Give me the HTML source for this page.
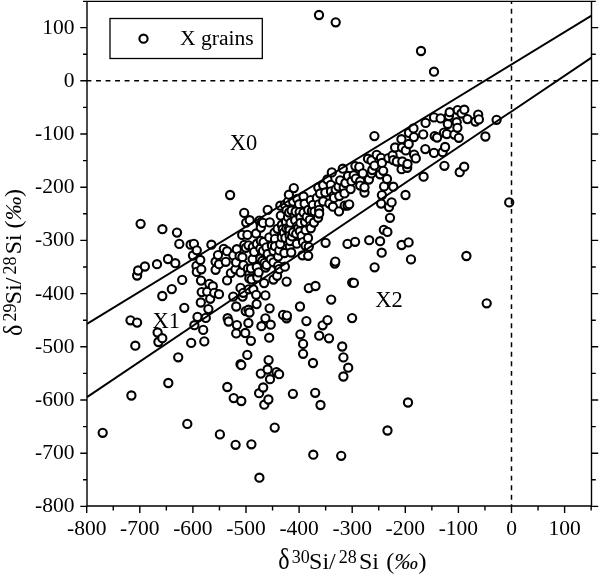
<!DOCTYPE html><html><head><meta charset="utf-8"><style>html,body{margin:0;padding:0;background:#fff;}svg{display:block;will-change:transform;}text{font-family:"Liberation Serif",serif;fill:#000;}</style></head><body>
<svg width="600" height="576" viewBox="0 0 600 576">
<g fill="#fff" stroke="#000" stroke-width="2.1"><circle cx="102.7" cy="432.8" r="4.1"/><circle cx="130.5" cy="320.3" r="4.1"/><circle cx="131.4" cy="395.5" r="4.1"/><circle cx="135.3" cy="345.7" r="4.1"/><circle cx="137.1" cy="275.5" r="4.1"/><circle cx="137.1" cy="322.6" r="4.1"/><circle cx="138.1" cy="270.5" r="4.1"/><circle cx="140.6" cy="223.8" r="4.1"/><circle cx="144.9" cy="266.5" r="4.1"/><circle cx="157.0" cy="264.2" r="4.1"/><circle cx="157.6" cy="332.5" r="4.1"/><circle cx="158.4" cy="342.0" r="4.1"/><circle cx="162.3" cy="296.0" r="4.1"/><circle cx="162.3" cy="338.2" r="4.1"/><circle cx="162.4" cy="229.2" r="4.1"/><circle cx="168.0" cy="259.0" r="4.1"/><circle cx="168.3" cy="383.0" r="4.1"/><circle cx="171.8" cy="289.1" r="4.1"/><circle cx="175.3" cy="263.2" r="4.1"/><circle cx="177.0" cy="232.6" r="4.1"/><circle cx="178.2" cy="357.3" r="4.1"/><circle cx="179.3" cy="243.9" r="4.1"/><circle cx="182.2" cy="279.9" r="4.1"/><circle cx="184.3" cy="307.8" r="4.1"/><circle cx="187.3" cy="423.9" r="4.1"/><circle cx="190.6" cy="244.7" r="4.1"/><circle cx="191.2" cy="342.9" r="4.1"/><circle cx="193.0" cy="255.5" r="4.1"/><circle cx="193.9" cy="243.9" r="4.1"/><circle cx="194.4" cy="325.2" r="4.1"/><circle cx="196.5" cy="265.9" r="4.1"/><circle cx="196.8" cy="250.3" r="4.1"/><circle cx="196.8" cy="271.9" r="4.1"/><circle cx="197.5" cy="316.9" r="4.1"/><circle cx="200.3" cy="260.0" r="4.1"/><circle cx="200.8" cy="302.5" r="4.1"/><circle cx="201.0" cy="280.6" r="4.1"/><circle cx="201.3" cy="269.3" r="4.1"/><circle cx="201.7" cy="292.1" r="4.1"/><circle cx="203.2" cy="329.9" r="4.1"/><circle cx="204.3" cy="341.4" r="4.1"/><circle cx="205.8" cy="317.9" r="4.1"/><circle cx="207.2" cy="291.7" r="4.1"/><circle cx="208.4" cy="309.1" r="4.1"/><circle cx="209.3" cy="283.8" r="4.1"/><circle cx="210.2" cy="298.8" r="4.1"/><circle cx="211.4" cy="244.7" r="4.1"/><circle cx="212.8" cy="286.2" r="4.1"/><circle cx="214.2" cy="292.8" r="4.1"/><circle cx="215.6" cy="261.7" r="4.1"/><circle cx="215.6" cy="269.8" r="4.1"/><circle cx="218.0" cy="255.1" r="4.1"/><circle cx="219.0" cy="264.2" r="4.1"/><circle cx="219.0" cy="294.2" r="4.1"/><circle cx="219.9" cy="434.4" r="4.1"/><circle cx="223.8" cy="248.8" r="4.1"/><circle cx="225.8" cy="261.8" r="4.1"/><circle cx="227.1" cy="251.2" r="4.1"/><circle cx="227.1" cy="280.4" r="4.1"/><circle cx="227.3" cy="387.0" r="4.1"/><circle cx="227.6" cy="318.2" r="4.1"/><circle cx="228.6" cy="321.5" r="4.1"/><circle cx="230.1" cy="195.0" r="4.1"/><circle cx="230.9" cy="273.1" r="4.1"/><circle cx="233.2" cy="296.6" r="4.1"/><circle cx="233.3" cy="255.4" r="4.1"/><circle cx="233.7" cy="398.1" r="4.1"/><circle cx="235.4" cy="269.3" r="4.1"/><circle cx="235.6" cy="444.8" r="4.1"/><circle cx="236.1" cy="262.4" r="4.1"/><circle cx="236.2" cy="306.5" r="4.1"/><circle cx="236.2" cy="333.4" r="4.1"/><circle cx="236.8" cy="249.2" r="4.1"/><circle cx="236.9" cy="325.1" r="4.1"/><circle cx="239.6" cy="256.1" r="4.1"/><circle cx="240.5" cy="287.9" r="4.1"/><circle cx="240.5" cy="364.2" r="4.1"/><circle cx="240.6" cy="272.4" r="4.1"/><circle cx="241.3" cy="401.0" r="4.1"/><circle cx="241.3" cy="365.1" r="4.1"/><circle cx="242.2" cy="234.9" r="4.1"/><circle cx="242.4" cy="257.2" r="4.1"/><circle cx="242.6" cy="296.6" r="4.1"/><circle cx="243.3" cy="292.8" r="4.1"/><circle cx="243.4" cy="265.1" r="4.1"/><circle cx="244.2" cy="212.9" r="4.1"/><circle cx="244.3" cy="244.9" r="4.1"/><circle cx="245.3" cy="333.0" r="4.1"/><circle cx="245.7" cy="311.1" r="4.1"/><circle cx="245.8" cy="247.8" r="4.1"/><circle cx="246.2" cy="222.6" r="4.1"/><circle cx="247.3" cy="354.9" r="4.1"/><circle cx="247.4" cy="234.9" r="4.1"/><circle cx="247.9" cy="268.6" r="4.1"/><circle cx="248.4" cy="323.0" r="4.1"/><circle cx="248.5" cy="245.3" r="4.1"/><circle cx="248.5" cy="309.7" r="4.1"/><circle cx="248.8" cy="289.3" r="4.1"/><circle cx="249.3" cy="274.2" r="4.1"/><circle cx="249.3" cy="278.3" r="4.1"/><circle cx="249.5" cy="312.5" r="4.1"/><circle cx="249.7" cy="220.2" r="4.1"/><circle cx="250.9" cy="340.8" r="4.1"/><circle cx="251.0" cy="268.5" r="4.1"/><circle cx="251.4" cy="444.3" r="4.1"/><circle cx="251.6" cy="279.5" r="4.1"/><circle cx="252.6" cy="259.2" r="4.1"/><circle cx="252.8" cy="247.1" r="4.1"/><circle cx="253.3" cy="289.3" r="4.1"/><circle cx="254.2" cy="251.9" r="4.1"/><circle cx="256.1" cy="233.5" r="4.1"/><circle cx="256.2" cy="294.8" r="4.1"/><circle cx="256.6" cy="304.1" r="4.1"/><circle cx="256.8" cy="267.0" r="4.1"/><circle cx="256.8" cy="243.9" r="4.1"/><circle cx="257.3" cy="277.4" r="4.1"/><circle cx="258.6" cy="272.4" r="4.1"/><circle cx="259.1" cy="393.2" r="4.1"/><circle cx="259.4" cy="477.7" r="4.1"/><circle cx="259.4" cy="220.6" r="4.1"/><circle cx="260.4" cy="248.5" r="4.1"/><circle cx="260.4" cy="258.6" r="4.1"/><circle cx="260.8" cy="224.7" r="4.1"/><circle cx="260.8" cy="227.6" r="4.1"/><circle cx="260.8" cy="240.8" r="4.1"/><circle cx="260.8" cy="373.6" r="4.1"/><circle cx="261.4" cy="326.2" r="4.1"/><circle cx="262.5" cy="260.7" r="4.1"/><circle cx="263.0" cy="222.9" r="4.1"/><circle cx="263.0" cy="250.9" r="4.1"/><circle cx="263.2" cy="387.5" r="4.1"/><circle cx="263.6" cy="242.1" r="4.1"/><circle cx="264.1" cy="283.1" r="4.1"/><circle cx="264.3" cy="404.7" r="4.1"/><circle cx="264.6" cy="262.8" r="4.1"/><circle cx="265.4" cy="295.4" r="4.1"/><circle cx="265.4" cy="318.3" r="4.1"/><circle cx="265.6" cy="267.5" r="4.1"/><circle cx="266.4" cy="247.3" r="4.1"/><circle cx="266.7" cy="264.9" r="4.1"/><circle cx="267.6" cy="369.5" r="4.1"/><circle cx="267.7" cy="209.9" r="4.1"/><circle cx="267.7" cy="254.0" r="4.1"/><circle cx="268.4" cy="399.5" r="4.1"/><circle cx="268.6" cy="360.1" r="4.1"/><circle cx="269.2" cy="337.7" r="4.1"/><circle cx="269.3" cy="237.4" r="4.1"/><circle cx="269.6" cy="308.3" r="4.1"/><circle cx="269.8" cy="222.4" r="4.1"/><circle cx="270.0" cy="379.2" r="4.1"/><circle cx="270.7" cy="324.7" r="4.1"/><circle cx="270.8" cy="259.2" r="4.1"/><circle cx="271.9" cy="245.7" r="4.1"/><circle cx="273.4" cy="262.3" r="4.1"/><circle cx="273.4" cy="279.5" r="4.1"/><circle cx="273.5" cy="250.9" r="4.1"/><circle cx="274.5" cy="232.7" r="4.1"/><circle cx="274.7" cy="427.6" r="4.1"/><circle cx="275.0" cy="238.9" r="4.1"/><circle cx="275.0" cy="246.2" r="4.1"/><circle cx="276.5" cy="372.1" r="4.1"/><circle cx="277.1" cy="275.8" r="4.1"/><circle cx="277.6" cy="228.8" r="4.1"/><circle cx="278.1" cy="256.6" r="4.1"/><circle cx="278.1" cy="265.9" r="4.1"/><circle cx="279.1" cy="374.2" r="4.1"/><circle cx="279.2" cy="269.1" r="4.1"/><circle cx="279.2" cy="250.4" r="4.1"/><circle cx="280.2" cy="244.1" r="4.1"/><circle cx="280.3" cy="205.7" r="4.1"/><circle cx="280.8" cy="215.6" r="4.1"/><circle cx="281.8" cy="225.0" r="4.1"/><circle cx="281.8" cy="237.4" r="4.1"/><circle cx="282.8" cy="229.2" r="4.1"/><circle cx="283.1" cy="314.9" r="4.1"/><circle cx="283.9" cy="232.7" r="4.1"/><circle cx="284.4" cy="253.0" r="4.1"/><circle cx="284.9" cy="266.7" r="4.1"/><circle cx="284.9" cy="204.7" r="4.1"/><circle cx="285.4" cy="237.9" r="4.1"/><circle cx="286.0" cy="221.9" r="4.1"/><circle cx="286.5" cy="210.4" r="4.1"/><circle cx="286.5" cy="228.5" r="4.1"/><circle cx="286.6" cy="281.6" r="4.1"/><circle cx="286.6" cy="318.3" r="4.1"/><circle cx="286.9" cy="315.6" r="4.1"/><circle cx="288.0" cy="201.6" r="4.1"/><circle cx="288.0" cy="217.2" r="4.1"/><circle cx="288.9" cy="194.7" r="4.1"/><circle cx="289.1" cy="212.5" r="4.1"/><circle cx="289.1" cy="228.1" r="4.1"/><circle cx="289.6" cy="230.1" r="4.1"/><circle cx="289.6" cy="235.8" r="4.1"/><circle cx="289.8" cy="246.3" r="4.1"/><circle cx="290.1" cy="241.0" r="4.1"/><circle cx="290.6" cy="222.7" r="4.1"/><circle cx="291.2" cy="252.5" r="4.1"/><circle cx="291.6" cy="210.5" r="4.1"/><circle cx="292.1" cy="236.4" r="4.1"/><circle cx="292.9" cy="393.8" r="4.1"/><circle cx="293.1" cy="201.6" r="4.1"/><circle cx="293.1" cy="232.2" r="4.1"/><circle cx="293.8" cy="188.1" r="4.1"/><circle cx="294.7" cy="215.7" r="4.1"/><circle cx="295.2" cy="220.4" r="4.1"/><circle cx="295.7" cy="211.5" r="4.1"/><circle cx="296.2" cy="233.8" r="4.1"/><circle cx="296.8" cy="243.7" r="4.1"/><circle cx="297.3" cy="199.0" r="4.1"/><circle cx="297.3" cy="226.1" r="4.1"/><circle cx="298.3" cy="228.1" r="4.1"/><circle cx="299.1" cy="204.2" r="4.1"/><circle cx="299.6" cy="212.1" r="4.1"/><circle cx="299.9" cy="231.2" r="4.1"/><circle cx="300.0" cy="306.5" r="4.1"/><circle cx="300.4" cy="334.3" r="4.1"/><circle cx="300.4" cy="217.3" r="4.1"/><circle cx="300.4" cy="223.0" r="4.1"/><circle cx="301.7" cy="235.9" r="4.1"/><circle cx="302.5" cy="255.3" r="4.1"/><circle cx="303.0" cy="242.1" r="4.1"/><circle cx="303.1" cy="343.9" r="4.1"/><circle cx="303.1" cy="353.8" r="4.1"/><circle cx="303.5" cy="196.5" r="4.1"/><circle cx="303.5" cy="212.6" r="4.1"/><circle cx="304.6" cy="203.7" r="4.1"/><circle cx="305.1" cy="222.0" r="4.1"/><circle cx="305.6" cy="230.2" r="4.1"/><circle cx="305.6" cy="245.8" r="4.1"/><circle cx="306.4" cy="321.1" r="4.1"/><circle cx="306.7" cy="216.8" r="4.1"/><circle cx="308.0" cy="238.0" r="4.1"/><circle cx="308.2" cy="255.8" r="4.1"/><circle cx="308.2" cy="210.0" r="4.1"/><circle cx="308.8" cy="288.1" r="4.1"/><circle cx="308.8" cy="246.8" r="4.1"/><circle cx="309.8" cy="219.9" r="4.1"/><circle cx="310.3" cy="226.1" r="4.1"/><circle cx="310.8" cy="200.1" r="4.1"/><circle cx="310.8" cy="228.3" r="4.1"/><circle cx="311.9" cy="211.0" r="4.1"/><circle cx="312.9" cy="204.8" r="4.1"/><circle cx="313.0" cy="363.0" r="4.1"/><circle cx="313.3" cy="454.7" r="4.1"/><circle cx="314.0" cy="222.5" r="4.1"/><circle cx="314.5" cy="211.5" r="4.1"/><circle cx="315.2" cy="392.8" r="4.1"/><circle cx="315.5" cy="286.0" r="4.1"/><circle cx="316.9" cy="197.9" r="4.1"/><circle cx="318.1" cy="217.8" r="4.1"/><circle cx="318.3" cy="187.5" r="4.1"/><circle cx="318.9" cy="204.3" r="4.1"/><circle cx="319.0" cy="15.0" r="4.1"/><circle cx="319.1" cy="209.9" r="4.1"/><circle cx="319.2" cy="335.7" r="4.1"/><circle cx="319.2" cy="213.5" r="4.1"/><circle cx="320.1" cy="193.5" r="4.1"/><circle cx="320.5" cy="405.0" r="4.1"/><circle cx="322.6" cy="325.3" r="4.1"/><circle cx="323.2" cy="201.4" r="4.1"/><circle cx="323.2" cy="185.2" r="4.1"/><circle cx="325.3" cy="192.5" r="4.1"/><circle cx="325.6" cy="242.8" r="4.1"/><circle cx="327.4" cy="179.5" r="4.1"/><circle cx="327.5" cy="320.1" r="4.1"/><circle cx="329.0" cy="338.3" r="4.1"/><circle cx="329.4" cy="203.5" r="4.1"/><circle cx="330.8" cy="184.9" r="4.1"/><circle cx="331.0" cy="191.4" r="4.1"/><circle cx="331.2" cy="299.6" r="4.1"/><circle cx="331.8" cy="172.4" r="4.1"/><circle cx="332.9" cy="206.7" r="4.1"/><circle cx="333.6" cy="195.6" r="4.1"/><circle cx="334.0" cy="197.9" r="4.1"/><circle cx="334.8" cy="263.6" r="4.1"/><circle cx="335.3" cy="261.6" r="4.1"/><circle cx="335.7" cy="22.3" r="4.1"/><circle cx="335.7" cy="189.4" r="4.1"/><circle cx="338.5" cy="186.5" r="4.1"/><circle cx="339.0" cy="211.4" r="4.1"/><circle cx="339.3" cy="196.0" r="4.1"/><circle cx="340.2" cy="180.4" r="4.1"/><circle cx="341.2" cy="455.8" r="4.1"/><circle cx="342.2" cy="346.5" r="4.1"/><circle cx="342.8" cy="168.7" r="4.1"/><circle cx="343.4" cy="357.4" r="4.1"/><circle cx="343.4" cy="376.5" r="4.1"/><circle cx="343.7" cy="187.3" r="4.1"/><circle cx="344.5" cy="193.4" r="4.1"/><circle cx="344.7" cy="205.6" r="4.1"/><circle cx="345.4" cy="183.0" r="4.1"/><circle cx="347.5" cy="205.6" r="4.1"/><circle cx="347.5" cy="243.9" r="4.1"/><circle cx="348.0" cy="176.0" r="4.1"/><circle cx="348.2" cy="367.7" r="4.1"/><circle cx="349.2" cy="204.3" r="4.1"/><circle cx="350.6" cy="189.1" r="4.1"/><circle cx="351.5" cy="181.2" r="4.1"/><circle cx="352.1" cy="318.1" r="4.1"/><circle cx="352.2" cy="282.6" r="4.1"/><circle cx="353.7" cy="175.2" r="4.1"/><circle cx="353.9" cy="282.9" r="4.1"/><circle cx="355.1" cy="241.8" r="4.1"/><circle cx="355.4" cy="166.1" r="4.1"/><circle cx="355.8" cy="178.6" r="4.1"/><circle cx="359.3" cy="166.9" r="4.1"/><circle cx="360.2" cy="181.2" r="4.1"/><circle cx="360.2" cy="185.6" r="4.1"/><circle cx="362.8" cy="173.4" r="4.1"/><circle cx="364.5" cy="192.5" r="4.1"/><circle cx="364.5" cy="187.3" r="4.1"/><circle cx="368.0" cy="158.7" r="4.1"/><circle cx="368.9" cy="179.5" r="4.1"/><circle cx="369.2" cy="240.2" r="4.1"/><circle cx="371.5" cy="160.4" r="4.1"/><circle cx="371.5" cy="173.4" r="4.1"/><circle cx="372.3" cy="170.0" r="4.1"/><circle cx="374.4" cy="136.1" r="4.1"/><circle cx="374.5" cy="165.6" r="4.1"/><circle cx="374.6" cy="267.3" r="4.1"/><circle cx="376.7" cy="154.8" r="4.1"/><circle cx="380.1" cy="241.2" r="4.1"/><circle cx="380.1" cy="174.3" r="4.1"/><circle cx="381.0" cy="157.8" r="4.1"/><circle cx="381.1" cy="203.6" r="4.1"/><circle cx="381.7" cy="252.7" r="4.1"/><circle cx="381.9" cy="163.0" r="4.1"/><circle cx="381.9" cy="195.1" r="4.1"/><circle cx="383.2" cy="170.8" r="4.1"/><circle cx="383.8" cy="229.8" r="4.1"/><circle cx="384.1" cy="186.4" r="4.1"/><circle cx="387.0" cy="179.0" r="4.1"/><circle cx="387.4" cy="231.9" r="4.1"/><circle cx="387.5" cy="430.5" r="4.1"/><circle cx="388.4" cy="158.1" r="4.1"/><circle cx="389.0" cy="207.0" r="4.1"/><circle cx="390.0" cy="217.8" r="4.1"/><circle cx="391.6" cy="202.4" r="4.1"/><circle cx="392.6" cy="155.3" r="4.1"/><circle cx="393.3" cy="160.1" r="4.1"/><circle cx="393.3" cy="186.7" r="4.1"/><circle cx="395.1" cy="147.5" r="4.1"/><circle cx="396.8" cy="161.5" r="4.1"/><circle cx="401.4" cy="139.2" r="4.1"/><circle cx="401.6" cy="245.0" r="4.1"/><circle cx="401.6" cy="169.2" r="4.1"/><circle cx="402.1" cy="147.5" r="4.1"/><circle cx="402.3" cy="161.5" r="4.1"/><circle cx="405.5" cy="195.0" r="4.1"/><circle cx="405.8" cy="150.4" r="4.1"/><circle cx="407.2" cy="167.8" r="4.1"/><circle cx="407.5" cy="164.0" r="4.1"/><circle cx="408.0" cy="402.5" r="4.1"/><circle cx="408.6" cy="242.4" r="4.1"/><circle cx="408.7" cy="144.0" r="4.1"/><circle cx="409.0" cy="132.9" r="4.1"/><circle cx="411.0" cy="259.4" r="4.1"/><circle cx="413.5" cy="128.4" r="4.1"/><circle cx="413.9" cy="137.1" r="4.1"/><circle cx="414.1" cy="154.6" r="4.1"/><circle cx="415.8" cy="158.4" r="4.1"/><circle cx="421.0" cy="51.0" r="4.1"/><circle cx="423.2" cy="134.4" r="4.1"/><circle cx="423.6" cy="176.7" r="4.1"/><circle cx="425.3" cy="149.1" r="4.1"/><circle cx="425.6" cy="122.9" r="4.1"/><circle cx="434.0" cy="117.4" r="4.1"/><circle cx="434.0" cy="152.9" r="4.1"/><circle cx="434.0" cy="71.7" r="4.1"/><circle cx="434.7" cy="136.1" r="4.1"/><circle cx="437.1" cy="137.5" r="4.1"/><circle cx="440.6" cy="118.4" r="4.1"/><circle cx="442.6" cy="152.2" r="4.1"/><circle cx="444.0" cy="132.6" r="4.1"/><circle cx="444.4" cy="165.8" r="4.1"/><circle cx="445.1" cy="147.0" r="4.1"/><circle cx="446.8" cy="134.0" r="4.1"/><circle cx="447.8" cy="124.0" r="4.1"/><circle cx="448.9" cy="116.0" r="4.1"/><circle cx="449.7" cy="112.2" r="4.1"/><circle cx="454.4" cy="134.6" r="4.1"/><circle cx="456.7" cy="122.2" r="4.1"/><circle cx="457.4" cy="127.8" r="4.1"/><circle cx="457.7" cy="110.1" r="4.1"/><circle cx="458.8" cy="137.8" r="4.1"/><circle cx="459.7" cy="172.2" r="4.1"/><circle cx="461.5" cy="113.5" r="4.1"/><circle cx="464.2" cy="166.7" r="4.1"/><circle cx="464.3" cy="109.7" r="4.1"/><circle cx="466.4" cy="256.0" r="4.1"/><circle cx="467.4" cy="119.1" r="4.1"/><circle cx="475.4" cy="121.5" r="4.1"/><circle cx="478.2" cy="114.6" r="4.1"/><circle cx="478.9" cy="119.4" r="4.1"/><circle cx="485.4" cy="136.5" r="4.1"/><circle cx="486.7" cy="303.3" r="4.1"/><circle cx="496.6" cy="119.8" r="4.1"/><circle cx="509.2" cy="202.4" r="4.1"/></g>
<line x1="86.5" y1="80.80" x2="591.5" y2="80.80" stroke="#000" stroke-width="1.5" stroke-dasharray="4.9 4.63"/>
<line x1="511.50" y1="1.35" x2="511.50" y2="506.0" stroke="#000" stroke-width="1.5" stroke-dasharray="4.9 4.63" stroke-dashoffset="2.13"/>
<line x1="87.0" y1="323.9" x2="591.5" y2="15.6" stroke="#000" stroke-width="1.9"/>
<line x1="87.0" y1="397.1" x2="591.5" y2="57.6" stroke="#000" stroke-width="1.9"/>
<path d="M87.0,1.35H591.5V506.0H87.0ZM86.70,506.0v7M139.80,506.0v7M192.90,506.0v7M246.00,506.0v7M299.10,506.0v7M352.20,506.0v7M405.30,506.0v7M458.40,506.0v7M511.50,506.0v7M564.60,506.0v7M113.25,506.0v4.5M166.35,506.0v4.5M219.45,506.0v4.5M272.55,506.0v4.5M325.65,506.0v4.5M378.75,506.0v4.5M431.85,506.0v4.5M484.95,506.0v4.5M538.05,506.0v4.5M591.15,506.0v4.5M87.0,506.40h-6.7M591.5,506.40h6.7M87.0,453.20h-6.7M591.5,453.20h6.7M87.0,400.00h-6.7M591.5,400.00h6.7M87.0,346.80h-6.7M591.5,346.80h6.7M87.0,293.60h-6.7M591.5,293.60h6.7M87.0,240.40h-6.7M591.5,240.40h6.7M87.0,187.20h-6.7M591.5,187.20h6.7M87.0,134.00h-6.7M591.5,134.00h6.7M87.0,80.80h-6.7M591.5,80.80h6.7M87.0,27.60h-6.7M591.5,27.60h6.7M87.0,479.80h-4M591.5,479.80h4.3M87.0,426.60h-4M591.5,426.60h4.3M87.0,373.40h-4M591.5,373.40h4.3M87.0,320.20h-4M591.5,320.20h4.3M87.0,267.00h-4M591.5,267.00h4.3M87.0,213.80h-4M591.5,213.80h4.3M87.0,160.60h-4M591.5,160.60h4.3M87.0,107.40h-4M591.5,107.40h4.3M87.0,54.20h-4M591.5,54.20h4.3M87.0,1.35h-4M591.5,1.35h4.3" fill="none" stroke="#000" stroke-width="1.4"/>
<text x="86.70" y="535" font-size="21.5" text-anchor="middle">-800</text>
<text x="139.80" y="535" font-size="21.5" text-anchor="middle">-700</text>
<text x="192.90" y="535" font-size="21.5" text-anchor="middle">-600</text>
<text x="246.00" y="535" font-size="21.5" text-anchor="middle">-500</text>
<text x="299.10" y="535" font-size="21.5" text-anchor="middle">-400</text>
<text x="352.20" y="535" font-size="21.5" text-anchor="middle">-300</text>
<text x="405.30" y="535" font-size="21.5" text-anchor="middle">-200</text>
<text x="458.40" y="535" font-size="21.5" text-anchor="middle">-100</text>
<text x="511.50" y="535" font-size="21.5" text-anchor="middle">0</text>
<text x="564.60" y="535" font-size="21.5" text-anchor="middle">100</text>
<text x="74.5" y="512.40" font-size="21.5" text-anchor="end">-800</text>
<text x="74.5" y="459.20" font-size="21.5" text-anchor="end">-700</text>
<text x="74.5" y="406.00" font-size="21.5" text-anchor="end">-600</text>
<text x="74.5" y="352.80" font-size="21.5" text-anchor="end">-500</text>
<text x="74.5" y="299.60" font-size="21.5" text-anchor="end">-400</text>
<text x="74.5" y="246.40" font-size="21.5" text-anchor="end">-300</text>
<text x="74.5" y="193.20" font-size="21.5" text-anchor="end">-200</text>
<text x="74.5" y="140.00" font-size="21.5" text-anchor="end">-100</text>
<text x="74.5" y="86.80" font-size="21.5" text-anchor="end">0</text>
<text x="74.5" y="33.60" font-size="21.5" text-anchor="end">100</text>
<rect x="110" y="18.5" width="152.3" height="40" fill="#fff" stroke="#000" stroke-width="1.3"/>
<circle cx="143.5" cy="38.7" r="4.1" fill="none" stroke="#000" stroke-width="2.1"/>
<text x="180" y="45.2" font-size="21.6">X grains</text>
<text x="229.8" y="150" font-size="22.5">X0</text>
<text x="152.5" y="327.5" font-size="22.5">X1</text>
<text x="375.3" y="307.3" font-size="22.5">X2</text>
<text transform="translate(277.8,568.5)" font-size="24"><tspan x="14" y="-5.8" font-size="18">30</tspan><tspan x="31.3" y="0">Si/</tspan><tspan x="61" y="-5.8" font-size="18">28</tspan><tspan x="81.2" y="0">Si </tspan><tspan dx="1.2">(</tspan><tspan font-style="italic">&#8240;</tspan><tspan dx="0.3">)</tspan></text>
<text transform="translate(278.2,569.3) scale(1,1.2)" font-size="24">&#948;</text>
<text transform="translate(21.3,335.5) rotate(-90)" font-size="24"><tspan x="14" y="-5.8" font-size="18">29</tspan><tspan x="31.3" y="0">Si/</tspan><tspan x="61" y="-5.8" font-size="18">28</tspan><tspan x="81.2" y="0">Si </tspan><tspan dx="-0.3">(</tspan><tspan font-style="italic">&#8240;</tspan><tspan dx="-0.4">)</tspan></text>
<text transform="translate(21.7,336.0) rotate(-90) scale(1,1.13)" font-size="24">&#948;</text>
</svg></body></html>
